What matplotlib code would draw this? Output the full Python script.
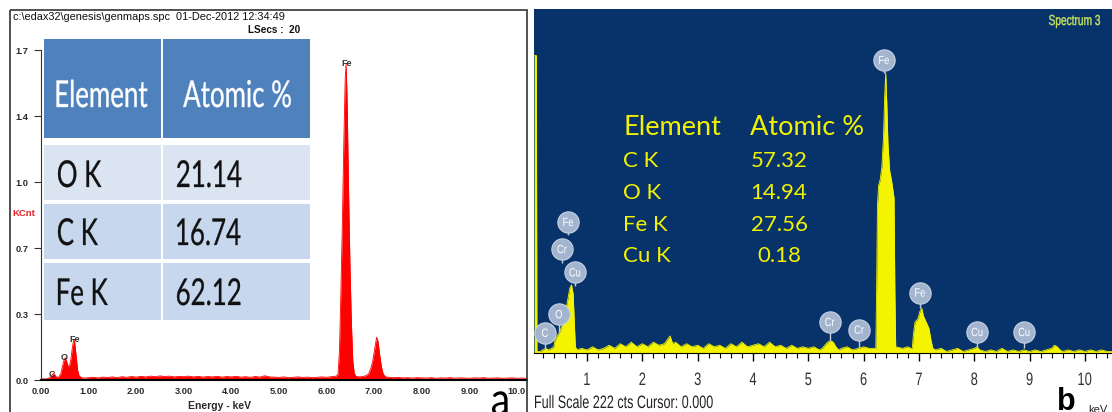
"""Two EDX spectra side by side with their atomic % tables."""

import matplotlib
matplotlib.use('Agg')
import matplotlib.pyplot as plt
from matplotlib.patches import Rectangle, PathPatch
from matplotlib.textpath import TextPath
from matplotlib.font_manager import FontProperties
from matplotlib.transforms import Affine2D
from matplotlib.ticker import MultipleLocator

W, H = 1112, 412

###################################################################################################
# Spectrum a (KCnt vs keV)

a_energy = [0.00, 0.05, 0.10, 0.15, 0.20, 0.24, 0.27, 0.30, 0.34, 0.38, 0.42, 0.45, 0.48, 0.51,
            0.54, 0.57, 0.60, 0.63, 0.66, 0.69, 0.71, 0.74, 0.77, 0.80, 0.85,
            0.9, 1.0, 1.1, 1.2, 1.3, 1.4, 1.5, 1.6, 1.7, 1.8, 1.9, 2.0, 2.1, 2.2, 2.3, 2.4, 2.5,
            2.6, 2.7, 2.8, 2.9, 3.0, 3.1, 3.2, 3.3, 3.4, 3.5, 3.6, 3.7, 3.8, 3.9, 4.0, 4.1, 4.2,
            4.3, 4.4, 4.5, 4.6, 4.7, 4.8, 4.9, 5.0, 5.1, 5.2, 5.3, 5.4, 5.5, 5.6, 5.7, 5.8, 5.9,
            6.0, 6.1, 6.2, 6.24, 6.27, 6.30, 6.33, 6.36, 6.39, 6.41, 6.43, 6.46, 6.49, 6.52, 6.55,
            6.58, 6.62, 6.7, 6.8, 6.88, 6.93, 6.97, 7.01, 7.05, 7.08, 7.11, 7.15, 7.19, 7.24,
            7.3, 7.4, 7.5, 7.6, 7.7, 7.8, 7.9, 8.0, 8.1, 8.2, 8.3, 8.4, 8.5, 8.6, 8.7, 8.8, 8.9,
            9.0, 9.1, 9.2, 9.3, 9.4, 9.5, 9.6, 9.7, 9.8, 9.9, 10.0, 10.1, 10.2]
a_kcnt = [0.004, 0.006, 0.005, 0.008, 0.015, 0.028, 0.035, 0.022, 0.012, 0.018, 0.035, 0.07, 0.10, 0.115,
          0.095, 0.07, 0.075, 0.11, 0.17, 0.21, 0.19, 0.12, 0.05, 0.022, 0.012,
          0.010, 0.012, 0.014, 0.011, 0.015, 0.013, 0.016, 0.012, 0.017, 0.014, 0.018, 0.015, 0.019,
          0.016, 0.020, 0.017, 0.021, 0.018, 0.020, 0.016, 0.019, 0.017, 0.020, 0.016, 0.019, 0.015,
          0.018, 0.016, 0.019, 0.015, 0.018, 0.016, 0.019, 0.015, 0.017, 0.014, 0.018, 0.015, 0.022,
          0.016, 0.015, 0.013, 0.016, 0.012, 0.014, 0.016, 0.013, 0.015, 0.012, 0.014, 0.016,
          0.014, 0.017, 0.020, 0.03, 0.15, 0.45, 0.80, 1.20, 1.55, 1.63, 1.45, 1.00, 0.60, 0.30, 0.10,
          0.035, 0.018, 0.016, 0.020, 0.03, 0.06, 0.10, 0.16, 0.22, 0.20, 0.14, 0.07, 0.03, 0.016,
          0.014, 0.012, 0.013, 0.011, 0.012, 0.010, 0.012, 0.011, 0.010, 0.012, 0.009, 0.011, 0.010,
          0.012, 0.009, 0.011, 0.010, 0.009, 0.011, 0.010, 0.012, 0.009, 0.010, 0.011, 0.009, 0.010,
          0.011, 0.009, 0.010, 0.009]

a_xticks = list(range(11))
a_xtick_labels = ['0.00', '1.00', '2.00', '3.00', '4.00', '5.00', '6.00', '7.00', '8.00', '9.00', '10.0']
a_yticks = [0.0, 0.34, 0.68, 1.02, 1.36, 1.70]
a_ytick_labels = ['0.0', '0.3', '0.7', '1.0', '1.4', '1.7']

a_peak_labels = ['C', 'O', 'Fe', 'Fe']
a_peak_kev = [0.23, 0.48, 0.71, 6.43]
a_peak_label_y = [0.015, 0.103, 0.196, 1.62]

a_elements = ['O K', 'C K', 'Fe K']
a_atomic = ['21.14', '16.74', '62.12']

###################################################################################################
# Spectrum b (counts vs keV)

b_energy = [0.045, 0.085, 0.095, 0.15, 0.20, 0.26, 0.30, 0.36, 0.40, 0.42, 0.46, 0.50, 0.55, 0.60,
            0.65, 0.69, 0.72, 0.75, 0.77, 0.79, 0.82,
            0.9, 1.0, 1.1, 1.2, 1.3, 1.4, 1.5, 1.6, 1.7, 1.8, 1.9, 2.0, 2.1, 2.2, 2.3, 2.4, 2.5,
            2.55, 2.6, 2.7, 2.8, 2.9, 3.0, 3.1, 3.2, 3.3, 3.4, 3.5, 3.6, 3.7, 3.8, 3.9, 4.0, 4.1,
            4.2, 4.3, 4.4, 4.5, 4.6, 4.7, 4.8, 4.9, 5.0, 5.1, 5.2, 5.25, 5.3, 5.35, 5.4, 5.45, 5.5,
            5.55, 5.6, 5.7, 5.8, 5.9, 6.0, 6.1,
            6.22, 6.235, 6.25, 6.27, 6.30, 6.33, 6.36, 6.38, 6.40, 6.42, 6.44, 6.47, 6.51, 6.55,
            6.565, 6.58, 6.7, 6.8, 6.85, 6.88, 6.90, 6.93, 6.98, 7.02, 7.05, 7.08, 7.13, 7.18,
            7.22, 7.25, 7.3, 7.4, 7.5, 7.6, 7.7, 7.8, 7.9, 8.0, 8.05, 8.1, 8.2, 8.3, 8.4, 8.5, 8.6,
            8.7, 8.8, 8.9, 9.0, 9.1, 9.2, 9.3, 9.4, 9.45, 9.5, 9.55, 9.6, 9.7, 9.8, 9.9, 10.0,
            10.1, 10.2, 10.3, 10.4, 10.49]
b_counts = [192, 192, 1, 1, 2, 3, 2, 3, 4, 8, 11, 13, 18, 25,
            34, 42, 44, 38, 20, 4, 2,
            3, 2, 4, 2, 3, 5, 3, 6, 4, 7, 4, 6, 4, 7, 5, 6, 11,
            6, 7, 4, 6, 4, 5, 3, 6, 4, 5, 3, 6, 4, 7, 4, 5, 6,
            4, 7, 4, 5, 3, 5, 3, 4, 3, 4, 2, 3, 5, 7, 8, 7, 4,
            2, 3, 4, 2, 3, 4, 3,
            3, 40, 95, 108, 112, 120, 140, 165, 181, 160, 135, 118, 110, 100,
            40, 4, 3, 4, 3, 3, 12, 20, 22, 27, 29, 24, 20, 16,
            8, 3, 2, 3, 1, 2, 3, 1, 2, 3, 4, 2, 1, 2, 1, 3, 1,
            2, 1, 2, 1, 2, 1, 2, 3, 5, 4, 2, 1, 2, 1, 2, 1,
            2, 1, 2, 1, 1]

b_xticks = list(range(1, 11))

b_mark_labels = ['C', 'O', 'Cr', 'Fe', 'Cu', 'Cr', 'Cr', 'Fe', 'Fe', 'Cu', 'Cu']
b_mark_kev = [0.24, 0.49, 0.55, 0.66, 0.78, 5.39, 5.92, 6.37, 7.02, 8.05, 8.90]
b_mark_y = [13, 25, 67, 84.5, 52, 20, 15, 189, 39, 13.5, 13.5]
b_mark_stem = [2, 13, 58, 76, 43, 8, 3, 181, 29, 3, 3]

b_elements = ['C K', 'O K', 'Fe K', 'Cu K']
b_atomic = ['57.32', '14.94', '27.56', '0.18']

###################################################################################################

fig = plt.figure(figsize=(W / 100, H / 100), dpi=100)


def px_axes(x0, y0, x1, y1):
    return fig.add_axes([x0 / W, 1 - y1 / H, (x1 - x0) / W, (y1 - y0) / H])


# ---- panel a
ax_a = px_axes(41, 10, 527, 380)
ax_a.fill_between(a_energy, a_kcnt, color='#ff0000', lw=0)
ax_a.plot(a_energy, a_kcnt, color='#ff0000', lw=0.6)
ax_a.set_xlim(0, 10.21)
ax_a.set_ylim(0, 1.907)
for side in ['top', 'right']:
    ax_a.spines[side].set_visible(False)
ax_a.spines['left'].set_bounds(0, 1.70)
ax_a.spines['left'].set_color('#333333')
ax_a.spines['bottom'].set_linewidth(1.5)
ax_a.set_xticks(a_xticks)
ax_a.set_xticklabels(a_xtick_labels)
ax_a.set_yticks(a_yticks)
ax_a.set_yticklabels(a_ytick_labels)
ax_a.tick_params(axis='x', length=0, pad=5, labelsize=6.7, labelcolor='#2a2a2a')
ax_a.tick_params(axis='y', length=5, width=0.8, color='#333333', pad=4, labelsize=6.7,
                 labelcolor='#2a2a2a')
for lab in ax_a.get_xticklabels() + ax_a.get_yticklabels():
    lab.set_fontweight('bold')
    lab.set_family('Liberation Sans')
for lab, e, y in zip(a_peak_labels, a_peak_kev, a_peak_label_y):
    ax_a.text(e, y, lab, ha='center', va='baseline', fontsize=6.5, fontweight='bold',
              color='#333333', family='Liberation Sans')

# ---- panel b
ax_b = px_axes(534, 9, 1112, 353)
ax_b.set_facecolor('#07336a')
ax_b.fill_between(b_energy, b_counts, color='#f4f400', lw=0)
ax_b.plot(b_energy, b_counts, color='#f4f400', lw=0.6)
ax_b.set_xlim(0.042, 10.49)
ax_b.set_ylim(0, 222)
for side in ['top', 'right', 'left']:
    ax_b.spines[side].set_visible(False)
ax_b.spines['bottom'].set_color('black')
ax_b.set_yticks([])
ax_b.set_xticks(b_xticks)
ax_b.xaxis.set_minor_locator(MultipleLocator(0.2))
ax_b.tick_params(axis='x', which='major', direction='out', length=6, width=1, color='black',
                 labelbottom=False)
ax_b.tick_params(axis='x', which='minor', direction='out', length=3.5, width=0.8, color='black')

# element balloons with their stems
ax_b.vlines(b_mark_kev, b_mark_stem, b_mark_y, color='#c3ccd8', lw=1, zorder=3)
ax_b.scatter(b_mark_kev, b_mark_y, s=235, color='#a3b4ce', edgecolor='#c9d3e2', lw=0.8, zorder=4)

# ---- overlay in pixel coordinates for frame, tables and captions
ov = fig.add_axes([0, 0, 1, 1])
ov.set_xlim(0, W)
ov.set_ylim(H, 0)
ov.axis('off')
ov.patch.set_alpha(0)
ov.set_zorder(5)


def narrow_text(x, y, s, em, squeeze, color, family='Lato', weight='normal', ha='left', lw=0):
    """Text drawn as a path, squeezed horizontally; x is the ink edge, y the baseline (px)."""
    path = TextPath((0, 0), s, size=em, prop=FontProperties(family=family, weight=weight))
    ext = path.get_extents()
    if ha == 'center':
        dx = -(ext.x0 + ext.x1) / 2 * squeeze
    elif ha == 'right':
        dx = -ext.x1 * squeeze
    else:
        dx = -ext.x0 * squeeze
    tr = Affine2D().scale(squeeze, -1).translate(x + dx, y)
    ov.add_patch(PathPatch(tr.transform_path(path), facecolor=color,
                           edgecolor=color if lw else 'none', lw=lw))


# balloon letters, placed over the circles of ax_b
for lab, e, y in zip(b_mark_labels, b_mark_kev, b_mark_y):
    xd, yd = ax_b.transData.transform((e, y))
    narrow_text(xd, H - yd + 4, lab, 12, 0.78, 'white', family='Liberation Sans', ha='center')

ov.add_patch(Rectangle((9.5, 9.5), 517.5, 410, fill=False, edgecolor='#333333', lw=1.2))

ov.text(13, 20, r'c:\edax32\genesis\genmaps.spc  01-Dec-2012 12:34:49', fontsize=7.9,
        family='Liberation Sans', color='#111111', va='baseline')
ov.text(300, 33, 'LSecs :  20', fontsize=7.2, family='Liberation Sans', fontweight='bold',
        color='#111111', ha='right', va='baseline')
ov.text(24, 216, 'KCnt', fontsize=6.8, fontweight='bold', color='#e8202a',
        family='Liberation Sans', ha='center', va='baseline')
ov.text(219, 409, 'Energy - keV', fontsize=7.5, fontweight='bold', color='#2a2a2a',
        family='Liberation Sans', ha='center', va='baseline')
narrow_text(492, 415, 'a', 46, 0.85, 'black')

# table a
col_x = [(44, 161), (163, 310)]
for x0, x1 in col_x:
    ov.add_patch(Rectangle((x0, 39), x1 - x0, 99, color='#4f81bd', lw=0))
narrow_text(102, 107, 'Element', 37, 0.70, 'white', ha='center', lw=0.25)
narrow_text(237, 107, 'Atomic %', 37, 0.70, 'white', ha='center', lw=0.25)
row_y = [(145, 200), (204, 259), (263, 320)]
row_colors = ['#dbe4f1', '#c7d7ee', '#c7d7ee']
row_base = [187, 245, 305]
for (y0, y1), c, yb, el, val in zip(row_y, row_colors, row_base, a_elements, a_atomic):
    for x0, x1 in col_x:
        ov.add_patch(Rectangle((x0, y0), x1 - x0, y1 - y0, color=c, lw=0))
    narrow_text(58, yb, el, 37, 0.70, '#111111', lw=0.2)
    narrow_text(177, yb, val, 37, 0.70, '#111111', lw=0.2)

# table b
ov.text(623, 135, 'Element', fontsize=19.5, family='Lato', color='#f2f200', va='baseline')
ov.text(750, 135, 'Atomic %', fontsize=19.5, family='Lato', color='#f2f200', va='baseline')
for yb, el, val in zip([167, 199, 231, 262], b_elements, b_atomic):
    ov.text(623, yb, el, fontsize=16, family='Lato', color='#f2f200', va='baseline')
    ov.text(779, yb, val, fontsize=16, family='Lato', color='#f2f200', ha='center', va='baseline')

# panel b tick labels, placed under the ticks of ax_b
for k in b_xticks:
    xd, _ = ax_b.transData.transform((k, 0))
    narrow_text(xd, 385, str(k), 18, 0.72, '#333333', family='Liberation Sans', ha='center')

narrow_text(1100, 25, 'Spectrum 3', 14.5, 0.70, '#c4e060', family='Liberation Sans',
            ha='right', lw=0.3)
narrow_text(535, 408, 'Full Scale 222 cts Cursor: 0.000', 18, 0.70, '#222222',
            family='Liberation Sans')
ov.text(1057, 410, 'b', fontsize=22, fontweight='bold', family='Liberation Sans', color='black',
        va='baseline')
ov.text(1088, 413, 'keV', fontsize=8, family='Liberation Sans', color='#222222', va='baseline')

fig.savefig('out.png', dpi=100)
